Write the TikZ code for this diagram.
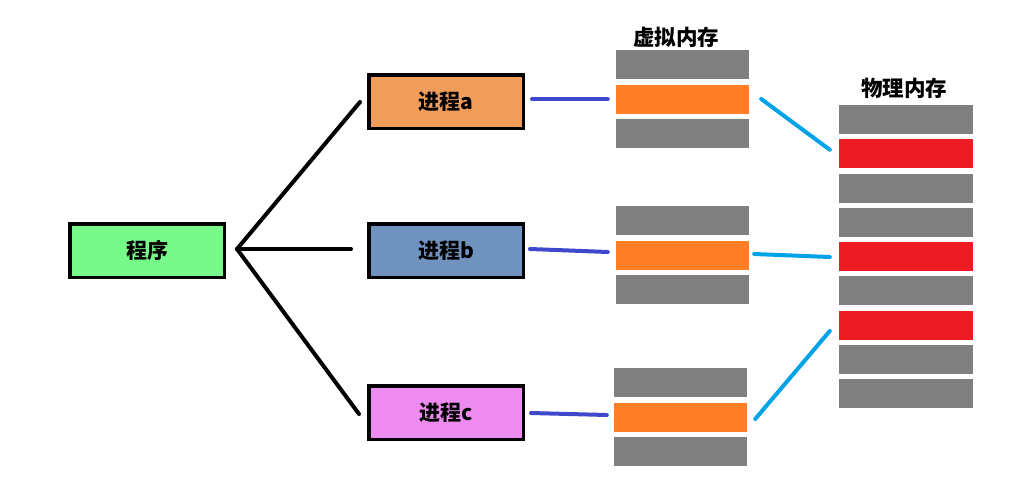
\documentclass[tikz,border=0pt]{standalone}
\usepackage{fontspec}
\newfontfamily\cjk{Noto Sans CJK SC}
\usetikzlibrary{calc}
\definecolor{progfill}{RGB}{120,250,138}
\definecolor{afill}{RGB}{240,157,92}
\definecolor{bfill}{RGB}{112,146,190}
\definecolor{cfill}{RGB}{238,139,240}
\definecolor{memgray}{RGB}{128,128,128}
\definecolor{memorange}{RGB}{255,127,39}
\definecolor{memred}{RGB}{237,28,36}
\definecolor{linkblue}{RGB}{63,72,204}
\definecolor{linkcyan}{RGB}{0,162,232}
\tikzset{
  procbox/.style={draw=black, line width=3.5, minimum width=154.5, minimum height=53.5,
    inner sep=0, font=\cjk\bfseries\fontsize{21}{21}\selectfont},
  vblock/.style={fill=memgray, inner sep=0, minimum width=133, minimum height=29},
  pblock/.style={fill=memgray, inner sep=0, minimum width=134, minimum height=29},
  used/.style={fill=memorange},
  mapped/.style={fill=memred},
  title/.style={font=\cjk\bfseries\fontsize{21.5}{21.5}\selectfont, inner sep=0},
  tree/.style={draw=black, line width=4, line cap=round},
  vlink/.style={draw=linkblue, line width=4, line cap=round},
  plink/.style={draw=linkcyan, line width=4, line cap=round}
}
\begin{document}
\begin{tikzpicture}[x=1pt,y=-1pt]
\useasboundingbox (0,0) rectangle (1017,493);

% program and its processes
\node[procbox, fill=progfill] (prog) at (147,250.5) {程序};
\node[procbox, fill=afill] (pa) at (446,101.5) {进程a};
\node[procbox, fill=bfill] (pb) at (446,250.5) {进程b};
\node[procbox, fill=cfill] (pc) at (446,412.5) {进程c};

% virtual memory of each process
\node[title] (vtitle) at (676,37) {虚拟内存};
\node[vblock] (va1) at (682.5,64.5) {};
\node[vblock, used] (va2) at (682.5,99) {};
\node[vblock] (va3) at (682.5,133.5) {};
\node[vblock] (vb1) at (682.5,220.5) {};
\node[vblock, used] (vb2) at (682.5,255) {};
\node[vblock] (vb3) at (682.5,289.5) {};
\node[vblock] (vc1) at (680.5,382.5) {};
\node[vblock, used] (vc2) at (680.5,417) {};
\node[vblock] (vc3) at (680.5,451.5) {};

% physical memory
\node[title] (ptitle) at (904,88) {物理内存};
\foreach \k/\s in {0/,1/mapped,2/,3/,4/mapped,5/,6/mapped,7/,8/} {
  \node[pblock, \s] (pm\k) at (906,{119.5+34.25*\k}) {};
}

% program forks into processes
\coordinate (fork) at (237,249);
\draw[tree] (fork) -- ($(pa.west)+(-7,0.5)$);
\draw[tree] (fork) -- ($(pb.west)+(-16,-1.5)$);
\draw[tree] (fork) -- ($(pc.west)+(-8,1.5)$);

% processes to virtual pages
\draw[vlink] ($(pa.east)+(7,-2.5)$) -- ($(va2.west)+(-8,0)$);
\draw[vlink] ($(pb.east)+(5,-1.5)$) -- ($(vb2.west)+(-8,-3)$);
\draw[vlink] ($(pc.east)+(6,0.5)$) -- ($(vc2.west)+(-7,-2)$);

% virtual pages to physical frames
\draw[plink] ($(va2.east)+(12,0)$) -- ($(pm1.west)+(-9,-4)$);
\draw[plink] ($(vb2.east)+(5,-1)$) -- ($(pm4.west)+(-9,0.5)$);
\draw[plink] ($(vc2.east)+(8,2)$) -- ($(pm6.west)+(-9,6)$);
\end{tikzpicture}
\end{document}
